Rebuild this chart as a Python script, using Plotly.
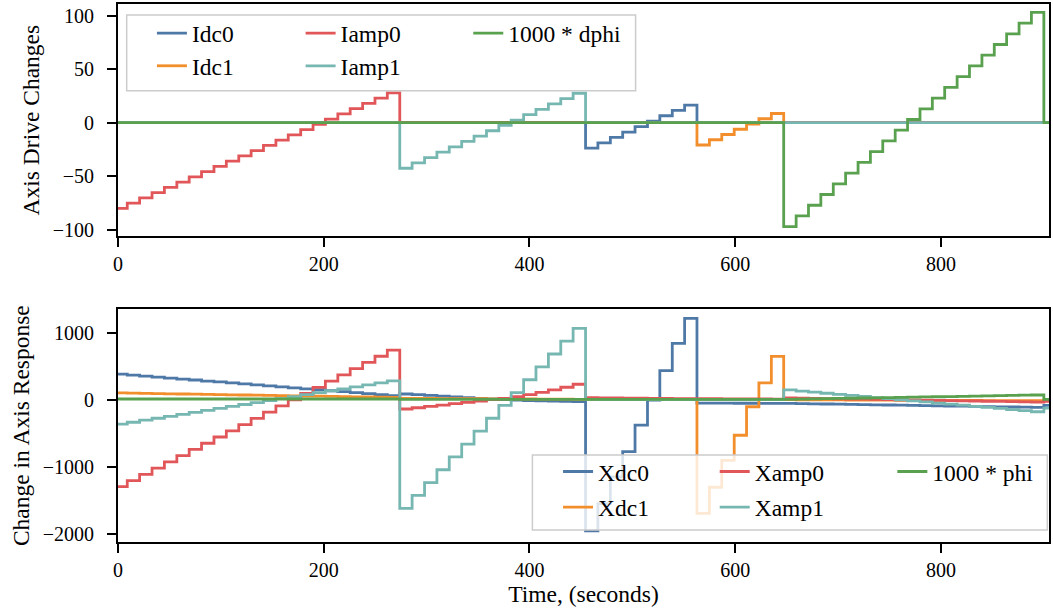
import plotly.graph_objects as go

# ---------------- data ----------------
# Step boundaries (seconds): level j spans t_edges[j] .. t_edges[j+1]
t_edges = [0, 9, 21.0, 33.1, 45.1, 57.2, 69.2, 81.2, 93.3, 105.3, 117.4, 129.4, 141.4,
           153.5, 165.5, 177.6, 189.6, 201.6, 213.7, 225.7, 237.8, 249.8, 261.8, 273.9,
           285.9, 298.0, 310.0, 322.0, 334.1, 346.1, 358.2, 370.2, 382.2, 394.3, 406.3,
           418.4, 430.4, 442.4, 454.5, 466.5, 478.6, 490.6, 502.6, 514.7, 526.7, 538.8,
           550.8, 562.8, 574.9, 586.9, 599.0, 611.0, 623.0, 635.1, 647.1, 659.2, 671.2,
           683.2, 695.3, 707.3, 719.4, 731.4, 743.4, 755.5, 767.5, 779.6, 791.6, 803.6,
           815.7, 827.7, 839.8, 851.8, 863.8, 875.9, 887.9, 900.0]
t_end = 907.0

# Drive sweeps: (first level index, levels)
iamp0_start, iamp0_levels = 0, [-80.0, -75.1, -70.2, -65.3, -60.4, -55.5, -50.6, -45.7, -40.8,
                                -35.9, -31.0, -26.1, -21.2, -16.3, -11.4, -6.5, -1.6, 3.3, 8.2,
                                13.1, 18.0, 22.9, 27.8]
iamp1_start, iamp1_levels = 23, [-42.5, -37.5, -32.5, -27.5, -22.5, -17.5, -12.5, -7.5, -2.5,
                                 2.5, 7.5, 12.5, 17.5, 22.5, 27.5]
idc0_start, idc0_levels = 38, [-23.8, -18.8, -13.7, -8.7, -3.6, 1.4, 6.5, 11.5, 16.5]
idc1_start, idc1_levels = 47, [-20.8, -15.9, -11.0, -6.1, -1.2, 3.7, 8.6]
dphi_start, dphi_levels = 54, [-97, -87, -77, -67, -57, -47, -37, -27, -17, -7, 3, 13, 23, 33,
                               43, 53, 63, 73, 83, 93, 103]

# Responses: one level per step (23 | 15 | 9 | 7 | 21 | 1 after the last step)
xdc0 = [385, 370, 356, 341, 327, 312, 298, 283, 269, 254, 240, 225, 211, 196, 182, 167, 153,
        138, 124, 109, 95, 80, 66,
        90, 80, 68, 56, 45, 34, 24, 15, 6, -2, -8, -13, -17, -21, -25,
        -1950, -1545, -1145, -770, -375, 0, 437, 845, 1217,
        -45, -45, -45, -48, -48, -50, -50,
        -50, -53, -56, -59, -62, -65, -68, -71, -74, -77, -80, -83, -86, -89, -92, -95, -98,
        -101, -104, -107, -110,
        -80]
xdc1 = [105, 102, 99, 96, 93, 90, 87, 84, 81, 78, 75, 72, 69, 66, 63, 60, 57, 54, 51, 48, 45,
        42, 40,
        25, 24, 23, 22, 21, 20, 19, 18, 17, 16, 15, 14, 13, 12, 11,
        10, 10, 9, 9, 8, 8, 7, 7, 6,
        -1690, -1300, -900, -525, -100, 255, 650,
        5, 4, 3, 2, 1, 0, -1, -2, -3, -4, -5, -5, -6, -6, -7, -7, -8, -8, -9, -9, -10,
        0]
xamp0 = [-1292, -1200, -1107, -1014, -922, -829, -737, -644, -551, -459, -366, -274, -181, -88,
         4, 97, 189, 282, 375, 467, 560, 652, 745,
         -134, -115, -95, -75, -55, -35, -15, 5, 25, 50, 80, 115, 150, 190, 235,
         35, 33, 31, 29, 27, 25, 23, 21, 20,
         20, 19, 18, 17, 16, 15, 14,
         30, 27, 24, 21, 18, 15, 12, 9, 6, 3, 0, -3, -6, -9, -12, -15, -18, -21, -24, -27, -30,
         -20]
xamp1 = [-360, -331, -301, -272, -243, -213, -184, -155, -126, -96, -67, -38, -8, 21, 50, 80,
         109, 138, 167, 197, 226, 255, 285,
         -1614, -1422, -1231, -1039, -847, -656, -464, -272, -81, 111, 302, 494, 686, 877, 1068,
         10, 8, 6, 5, 5, 5, 5, 5, 5,
         5, 5, 5, 5, 5, 5, 5,
         150, 134, 118, 101, 85, 69, 53, 36, 20, 4, -12, -29, -45, -61, -77, -94, -110, -126,
         -142, -159, -175,
         -120]
phi1000 = [15] * 23 + [10] * 15 + [10] * 9 + [10] * 7 + \
          [10, 13, 16, 20, 23, 26, 30, 33, 36, 39, 43, 46, 49, 52, 55, 59, 62, 65, 68, 72, 75] + \
          [10]

drive_names = ["Idc0", "Idc1", "Iamp0", "Iamp1", "1000 * dphi"]
resp_names = ["Xdc0", "Xdc1", "Xamp0", "Xamp1", "1000 * phi"]
colors = ["#4e79a7", "#f28e2b", "#e15759", "#76b7b2", "#59a14f"]

# ---------------- helpers ----------------
n_levels = len(t_edges)  # 75 steps + 1 trailing level
x_steps = t_edges + [t_end]


def drive_series(start, levels):
    y = [0.0] * n_levels
    for i, v in enumerate(levels):
        y[start + i] = v
    return x_steps, y + [y[-1]]


def resp_series(levels):
    return x_steps, list(levels) + [levels[-1]]


FONT = "Liberation Serif"
fig = go.Figure()

drives = [drive_series(idc0_start, idc0_levels), drive_series(idc1_start, idc1_levels),
          drive_series(iamp0_start, iamp0_levels), drive_series(iamp1_start, iamp1_levels),
          drive_series(dphi_start, dphi_levels)]
responses = [resp_series(xdc0), resp_series(xdc1), resp_series(xamp0), resp_series(xamp1),
             resp_series(phi1000)]

for i, (x, y) in enumerate(drives):
    fig.add_trace(go.Scatter(x=x, y=y, mode="lines", line=dict(color=colors[i], width=2.8, shape="hv"),
                             name=drive_names[i], xaxis="x", yaxis="y",
                             legend="legend" if i == 0 else f"legend{i + 1}"))
for i, (x, y) in enumerate(responses):
    fig.add_trace(go.Scatter(x=x, y=y, mode="lines", line=dict(color=colors[i], width=2.8, shape="hv"),
                             name=resp_names[i], xaxis="x2", yaxis="y2",
                             legend=f"legend{i + 6}"))

# ---------------- layout ----------------
L, R, T, B = 118, 2, 4, 71
W, H = 1053, 613
pw, ph = W - L - R, H - T - B


def px(X):
    return (X - L) / pw


def py(Y):
    return (H - B - Y) / ph


axis_common = dict(showgrid=False, zeroline=False, showline=True, linecolor="black", linewidth=2,
                   mirror=True, ticks="outside", ticklen=9, tickwidth=2, tickcolor="black",
                   tickfont=dict(family=FONT, size=20, color="black"))

top_dom = [py(236.3), 1.0]
bot_dom = [0.0, py(309.3)]

layout = dict(
    width=W, height=H, margin=dict(l=L, r=R, t=T, b=B),
    paper_bgcolor="white", plot_bgcolor="white",
    font=dict(family=FONT, color="black"),
    xaxis=dict(axis_common, domain=[0, 1], range=[0, 905], tickvals=[0, 200, 400, 600, 800],
               anchor="y"),
    yaxis=dict(axis_common, domain=top_dom, range=[-106, 110.8], tickvals=[-100, -50, 0, 50, 100],
               anchor="x", ticklabelstandoff=9,
               title=dict(text="Axis Drive Changes", font=dict(family=FONT, size=23.5), standoff=6)),
    xaxis2=dict(axis_common, domain=[0, 1], range=[0, 905], tickvals=[0, 200, 400, 600, 800],
                anchor="y2", title=dict(text="Time, (seconds)", font=dict(family=FONT, size=23.5),
                                        standoff=1)),
    yaxis2=dict(axis_common, domain=bot_dom, range=[-2116, 1352],
                tickvals=[-2000, -1000, 0, 1000], anchor="x2", ticklabelstandoff=9,
                title=dict(text="Change in Axis Response", font=dict(family=FONT, size=23.5),
                           standoff=6)),
    showlegend=True,
)

# one legend per entry to reproduce the 3-column matplotlib layout
legend_font = dict(family=FONT, size=23.5, color="black")
top_rows = [33.3, 66.0]
bot_rows = [471.7, 507.3]
top_cols = [193, 342, 510]
bot_cols = [600, 757, 935]
# drive order: Idc0(r0c0) Idc1(r1c0) Iamp0(r0c1) Iamp1(r1c1) dphi(r0c2)
slots = [(0, 0), (1, 0), (0, 1), (1, 1), (0, 2)]
for k in range(10):
    r, c = slots[k % 5]
    if k < 5:
        X, Y = top_cols[c], top_rows[r]
    else:
        X, Y = bot_cols[c], bot_rows[r]
    key = "legend" if k == 0 else f"legend{k + 1}"
    layout[key] = dict(x=px(X - 41), y=py(Y), xanchor="left", yanchor="middle",
                       bgcolor="rgba(0,0,0,0)", borderwidth=0, font=legend_font,
                       itemclick=False, itemdoubleclick=False)

frame = dict(type="rect", xref="paper", yref="paper", layer="above",
             fillcolor="rgba(255,255,255,0.8)", line=dict(color="#cccccc", width=1.5))
layout["shapes"] = [
    dict(frame, x0=px(126.7), x1=px(636.7), y0=py(90.7), y1=py(15)),
    dict(frame, x0=px(533.3), x1=px(1049.3), y0=py(530), y1=py(455)),
]

fig.update_layout(**layout)
fig.write_html("out.html")
